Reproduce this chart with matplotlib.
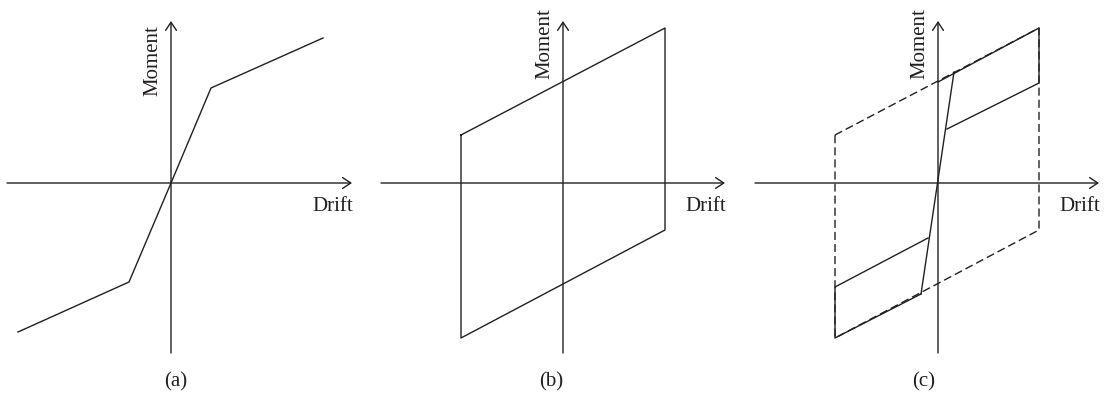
import matplotlib.pyplot as plt

plt.rcParams['font.family'] = ['Liberation Serif', 'DejaVu Serif']

INK = '#231f20'
W, H = 1105, 394

# (a) bilinear backbone curve (drift, moment)
drift_a = [-153, -42, 0, 40, 152]
moment_a = [-149, -99, 0, 95, 145]

# (b) bilinear hysteresis loop
drift_b = [-102, 102, 102, -102, -102]
moment_b = [48, 155, -47, -155, 48]

# (c) envelope (dashed) and the actual loading path (solid)
drift_env = [-103, 101, 101, -103, -103]
moment_env = [48, 155, -47, -155, 48]
drift_steep = [-17, 16]
moment_steep = [-111, 111]
drift_up = [0, 101, 101, 9]
moment_up = [101, 155, 100, 54]
drift_low = [-10, -103, -103, -17]
moment_low = [-55, -104, -155, -111]

tags = ['(a)', '(b)', '(c)']


def make_panel(fig, left, width, ox, oy, x_lo, x_hi, moment_top, tag, tag_x):
    ax = fig.add_axes([left / W, 0, width / W, 1])
    ax.set_xlim(left - ox, left + width - ox)
    ax.set_ylim(oy - H, oy)
    ax.axis('off')

    arrow = dict(arrowstyle='->,head_length=0.45,head_width=0.3', color=INK,
                 lw=1.0, shrinkA=0, shrinkB=0, mutation_scale=13)
    ax.annotate('', xy=(x_hi, 0), xytext=(x_lo, 0), arrowprops=arrow)
    ax.annotate('', xy=(0, 162), xytext=(0, -170), arrowprops=arrow)

    ax.text(-9, moment_top, 'Moment', rotation=90, ha='right', va='top',
            fontsize=15, color=INK)
    ax.text(x_hi + 1, -28, 'Drift', ha='right', va='baseline',
            fontsize=15, color=INK)
    ax.text(tag_x - ox, -203, tag, ha='center', va='baseline',
            fontsize=15, color=INK)
    return ax


fig = plt.figure(figsize=(W / 100, H / 100), dpi=100)

ax_a = make_panel(fig, 0, 368, 171, 183, -164, 181, 158, tags[0], 176)
ax_a.plot(drift_a, moment_a, color=INK, lw=1.0)

ax_b = make_panel(fig, 368, 372, 563, 183, -182, 162, 175, tags[1], 551)
ax_b.plot(drift_b, moment_b, color=INK, lw=1.0)

ax_c = make_panel(fig, 740, 365, 938, 183, -183, 161, 175, tags[2], 924)
ax_c.plot(drift_env, moment_env, color=INK, lw=1.0, linestyle=(0, (5.8, 2.9)))
ax_c.plot(drift_steep, moment_steep, color=INK, lw=1.0)
ax_c.plot(drift_up, moment_up, color=INK, lw=1.0)
ax_c.plot(drift_low, moment_low, color=INK, lw=1.0)

fig.savefig('out.png', dpi=100)
